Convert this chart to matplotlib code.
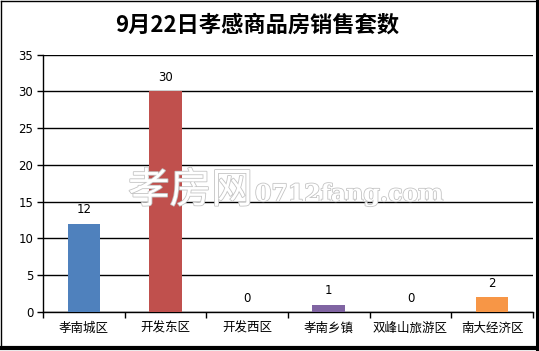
import matplotlib
matplotlib.use('Agg')
import matplotlib.pyplot as plt
import matplotlib.patheffects as pe
from matplotlib.lines import Line2D

plt.rcParams['font.family'] = ['Noto Sans CJK SC', 'DejaVu Sans']

# ========== 数据 ==========
TITLE = '9月22日孝感商品房销售套数'
districts = ['孝南城区', '开发东区', '开发西区', '孝南乡镇', '双峰山旅游区', '南大经济区']
sales = [12, 30, 0, 1, 0, 2]
bar_colors = ['#4F81BD', '#C0504D', '#9BBB59', '#8064A2', '#4BACC6', '#F79646']
y_ticks = [0, 5, 10, 15, 20, 25, 30, 35]
# ==========================

W, H = 539, 351
fig = plt.figure(figsize=(W / 100, H / 100), dpi=100)
ax = fig.add_axes([43 / W, (H - 312) / H, (533 - 43) / W, (312 - 54.5) / H])

x = range(len(districts))
ax.bar(x, sales, width=0.4, color=bar_colors, zorder=3)
for xi, v in zip(x, sales):
    ax.annotate(str(v), (xi, v), xytext=(0, 10), textcoords='offset points',
                ha='center', va='center', fontsize=8.5, family='DejaVu Sans')

ax.set_xlim(-0.5, len(districts) - 0.5)
ax.set_ylim(0, 35)
ax.set_yticks(y_ticks)
ax.set_yticklabels([str(t) for t in y_ticks], fontsize=8.5, family='DejaVu Sans')
ax.yaxis.grid(True, color='black', linewidth=1, zorder=0)
ax.set_axisbelow(True)

# 分隔刻度放在类别之间
ax.set_xticks([i - 0.5 for i in range(len(districts) + 1)])
ax.set_xticklabels([])
ax.set_xticks(list(x), minor=True)
ax.set_xticklabels(districts, minor=True, fontsize=9)
ax.tick_params(axis='x', which='minor', length=0, pad=7)
ax.tick_params(axis='x', which='major', length=4, width=1, direction='out')
ax.tick_params(axis='y', length=4, width=1, pad=3)

for s in ['top', 'right']:
    ax.spines[s].set_visible(False)
for s in ['left', 'bottom']:
    ax.spines[s].set_linewidth(1)

fig.text(257 / W, 1 - 25 / H, TITLE, ha='center', va='center',
         fontsize=16, fontweight='bold')

# 水印
wm = [pe.withStroke(linewidth=1.2, foreground='#c4c4c4')]
fig.text(128 / W, 1 - 191 / H, '孝房网', ha='left', va='center', fontsize=30,
         fontweight='medium', color='white', path_effects=wm, zorder=10)
fig.text(255 / W, 1 - 194 / H, '0712fang.com', ha='left', va='center', fontsize=17,
         family='DejaVu Serif', fontweight='bold', color='white', path_effects=wm, zorder=10)

# 外框
def frame(x0, y0, x1, y1, lw):
    fig.add_artist(Line2D([x0 / W, x1 / W], [1 - y0 / H, 1 - y1 / H],
                          transform=fig.transFigure, color='black', linewidth=lw))

frame(0.5, 0.5, 536.5, 0.5, 1)
frame(0.5, 0.5, 0.5, 348, 1)
frame(536.5, 0, 536.5, 349, 2.2)
frame(0, 348, 538, 348, 3)

fig.savefig('out.png', dpi=100, facecolor='white')
